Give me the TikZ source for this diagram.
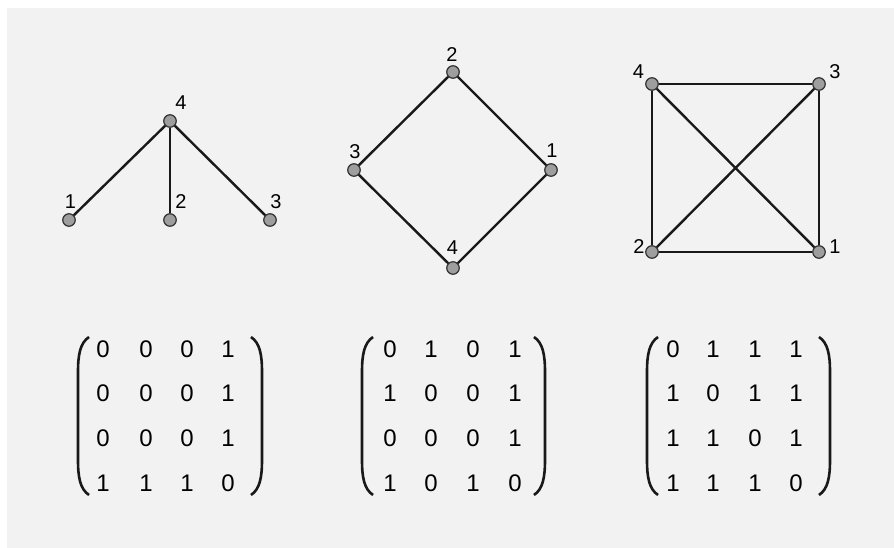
\documentclass[tikz,border=0pt]{standalone}
\usepackage{fontspec}
\setmainfont{Liberation Sans}
\begin{document}
\begin{tikzpicture}[x=1pt,y=-1pt,
  vtx/.style={circle,draw=black!80,line width=1.2pt,fill=black!38,minimum size=12.5pt,inner sep=0pt},
  lbl/.style={inner sep=0pt,font=\fontsize{20}{20}\selectfont},
  ent/.style={inner sep=0pt,font=\fontsize{24}{24}\selectfont},
  edge/.style={line width=2.4pt,draw=black!90},
  paren/.style={line width=2.6pt,draw=black!90}]
\useasboundingbox (0,0) rectangle (894,548);
\fill[white] (0,0) rectangle (894,548);
\fill[black!5] (7,8) rectangle (894,548);
% graph 1
\node[vtx] (a4) at (170,121) {};
\node[vtx] (a1) at (69,220) {};
\node[vtx] (a2) at (170,220) {};
\node[vtx] (a3) at (270,220) {};
\draw[edge] (a4) -- (a1); \draw[edge] (a4) -- (a2); \draw[edge] (a4) -- (a3);
\node[lbl] (la4) at (181,103) {4};
\node[lbl] (la1) at (70.5,201.5) {1};
\node[lbl] (la2) at (181,201.5) {2};
\node[lbl] (la3) at (276,201.5) {3};
% graph 2
\node[vtx] (b2) at (453,72) {};
\node[vtx] (b3) at (354,170) {};
\node[vtx] (b1) at (551,170) {};
\node[vtx] (b4) at (453,268) {};
\draw[edge] (b2) -- (b3); \draw[edge] (b2) -- (b1); \draw[edge] (b3) -- (b4); \draw[edge] (b1) -- (b4);
\node[lbl] (lb2) at (452,55) {2};
\node[lbl] (lb3) at (355,151.5) {3};
\node[lbl] (lb1) at (552,150.5) {1};
\node[lbl] (lb4) at (452.5,248) {4};
% graph 3
\node[vtx] (c4) at (652,84) {};
\node[vtx] (c3) at (819,84) {};
\node[vtx] (c2) at (652,252) {};
\node[vtx] (c1) at (819,252) {};
\draw[edge] (c4) -- (c3); \draw[edge] (c3) -- (c1); \draw[edge] (c1) -- (c2); \draw[edge] (c2) -- (c4);
\draw[edge] (c4) -- (c1); \draw[edge] (c2) -- (c3);
\node[lbl] (lc4) at (638.5,71.5) {4};
\node[lbl] (lc3) at (835,71.5) {3};
\node[lbl] (lc2) at (639,246.5) {2};
\node[lbl] (lc1) at (835,246.5) {1};
% matrices
\foreach \m/\xa/\xb/\xc/\xd/\pl/\pr/\vals in {
  A/103/146/187/228/78/262/{{0,0,0,1},{0,0,0,1},{0,0,0,1},{1,1,1,0}},
  B/390/431/473/515/362/545/{{0,1,0,1},{1,0,0,1},{0,0,0,1},{1,0,1,0}},
  C/673/713/755/796/647/830/{{0,1,1,1},{1,0,1,1},{1,1,0,1},{1,1,1,0}}}{
  \foreach \row [count=\r] in \vals {
    \pgfmathsetmacro{\yy}{349+(\r-1)*44.7}
    \foreach \v [count=\c] in \row {
      \ifcase\c\or\def\xx{\xa}\or\def\xx{\xb}\or\def\xx{\xc}\or\def\xx{\xd}\fi
      \node[ent] (\m-\r-\c) at (\xx,\yy) {\v};
    }
  }
  \draw[paren] (\pl+11,337) .. controls (\pl+2,343) and (\pl,355) .. (\pl,372)
     -- (\pl,460) .. controls (\pl,477) and (\pl+2,489) .. (\pl+11,495);
  \draw[paren] (\pr-11,337) .. controls (\pr-2,343) and (\pr,355) .. (\pr,372)
     -- (\pr,460) .. controls (\pr,477) and (\pr-2,489) .. (\pr-11,495);
}
\end{tikzpicture}
\end{document}
